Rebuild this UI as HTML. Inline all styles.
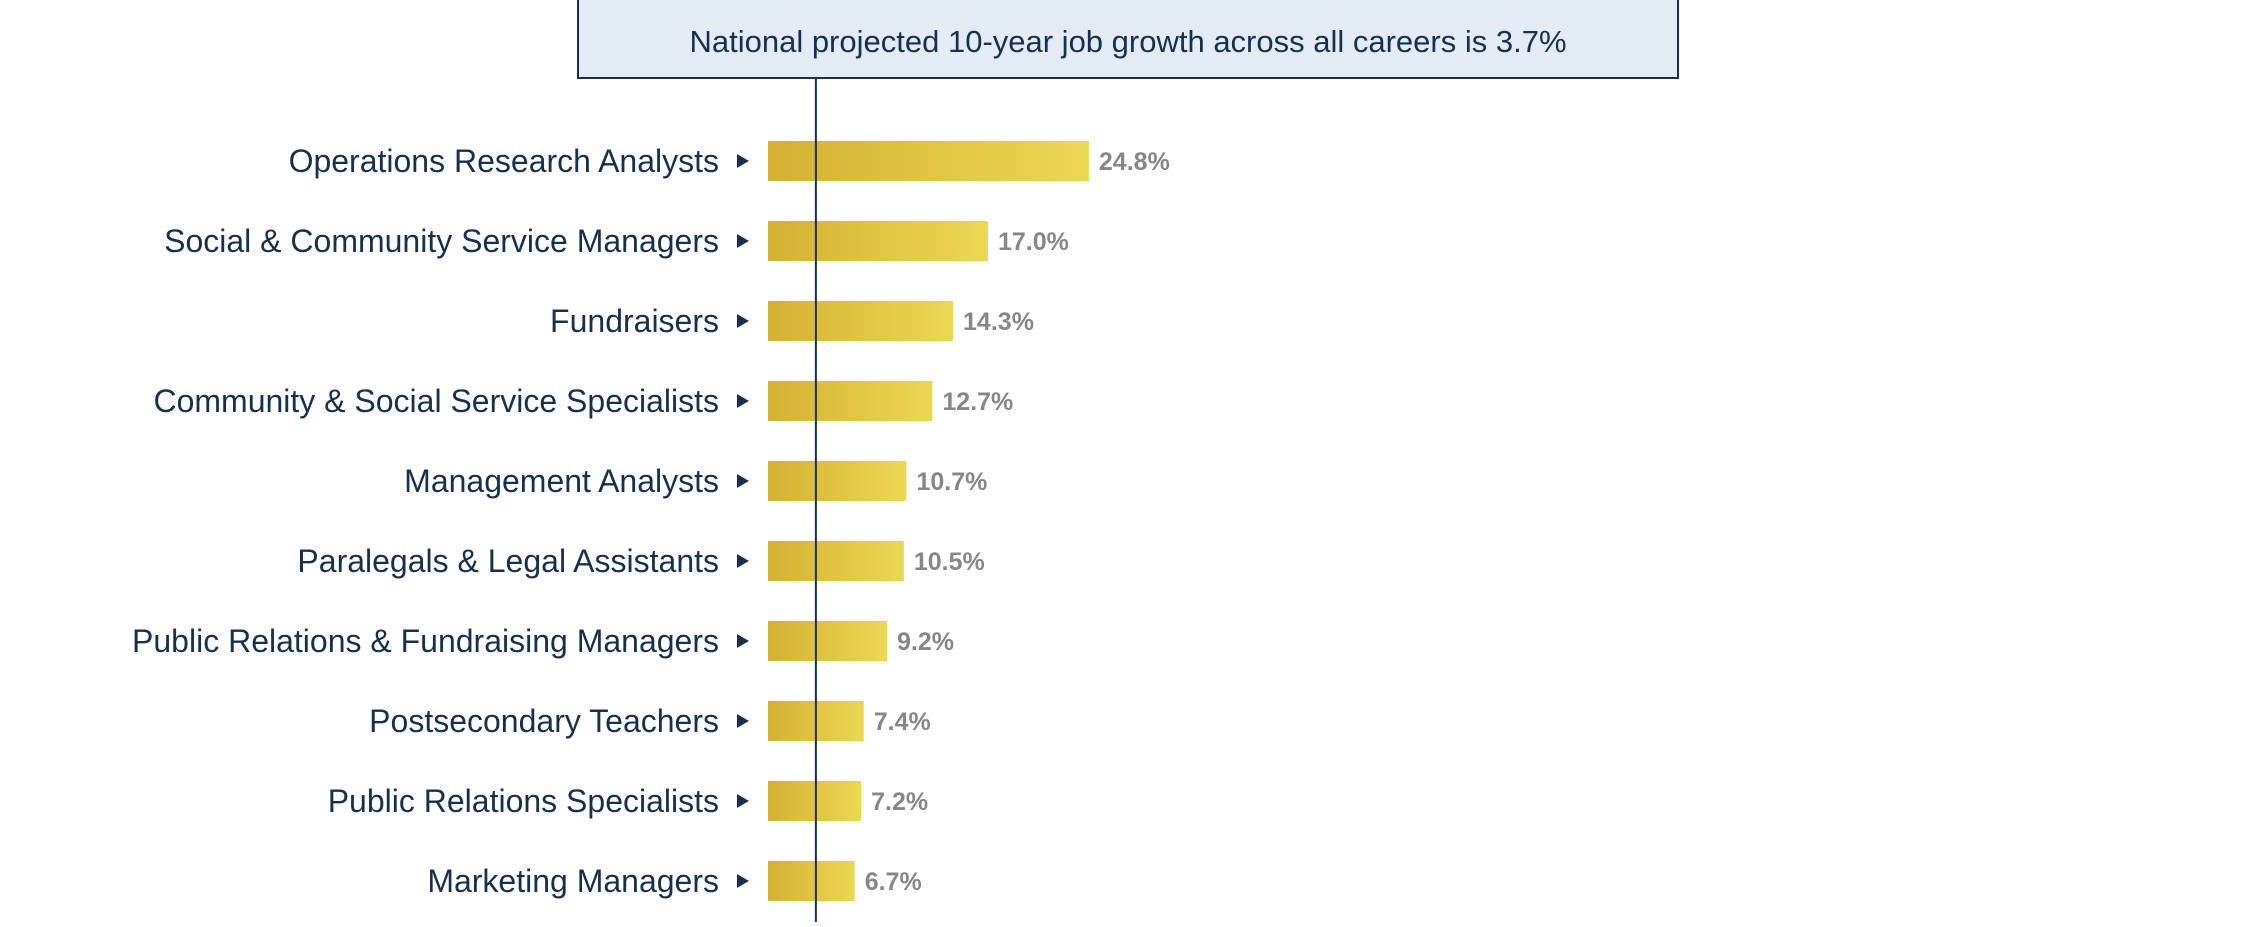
<!DOCTYPE html>
<html><head><meta charset="utf-8"><style>
html,body{margin:0;padding:0;background:#fff;}
body{width:2256px;height:922px;overflow:hidden;font-family:"Liberation Sans",sans-serif;}
</style></head><body>
<svg id="chart" width="2256" height="922" xmlns="http://www.w3.org/2000/svg">
<defs><linearGradient id="g" x1="0" x2="1" y1="0" y2="0"><stop offset="0" stop-color="#d5b032"/><stop offset="1" stop-color="#ebd852"/></linearGradient></defs>
<g id="bars"></g>
<rect x="578" y="-2" width="1100" height="80" fill="#e3ecf4" stroke="#16304f" stroke-width="2"/>
<text x="1128" y="52" text-anchor="middle" font-size="31" fill="#16304f">National projected 10-year job growth across all careers is 3.7%</text>
<line id="ref" y1="79" y2="922" stroke="#16304f" stroke-width="2"/>
</svg>
<script>
const categories=["Operations Research Analysts","Social & Community Service Managers","Fundraisers","Community & Social Service Specialists","Management Analysts","Paralegals & Legal Assistants","Public Relations & Fundraising Managers","Postsecondary Teachers","Public Relations Specialists","Marketing Managers"];
const values=[24.8,17.0,14.3,12.7,10.7,10.5,9.2,7.4,7.2,6.7];
const valueLabels=["24.8%","17.0%","14.3%","12.7%","10.7%","10.5%","9.2%","7.4%","7.2%","6.7%"];
const nationalAvg=3.7;
const NS="http://www.w3.org/2000/svg";
const x0=768,k=12.94;
const xs=v=>x0+v*k;
const ys=i=>161+80*i;
const g=document.getElementById('bars');
function mk(t,a){const e=document.createElementNS(NS,t);for(const n in a)e.setAttribute(n,a[n]);return e;}
categories.forEach((c,i)=>{
  const cy=ys(i);
  const r=mk('rect',{x:x0,y:cy-20,width:xs(values[i])-x0,height:40,fill:'url(#g)'});
  
  
  g.appendChild(r);
  const t=mk('text',{x:719,y:cy+11,'text-anchor':'end','font-size':32,fill:'#16304f'});
  t.textContent=c;
  
  
  g.appendChild(t);
  const p=mk('path',{d:`M737 ${cy-7} L749 ${cy} L737 ${cy+7} Z`,fill:'#16304f'});
  
  
  g.appendChild(p);
  const v=mk('text',{x:xs(values[i])+10,y:cy+9,'font-size':25,'font-weight':'bold',fill:'#878787'});
  v.textContent=valueLabels[i];
  
  
  g.appendChild(v);
});
const l=document.getElementById('ref');
l.setAttribute('x1',xs(nationalAvg));l.setAttribute('x2',xs(nationalAvg));
</script>
</body></html>
